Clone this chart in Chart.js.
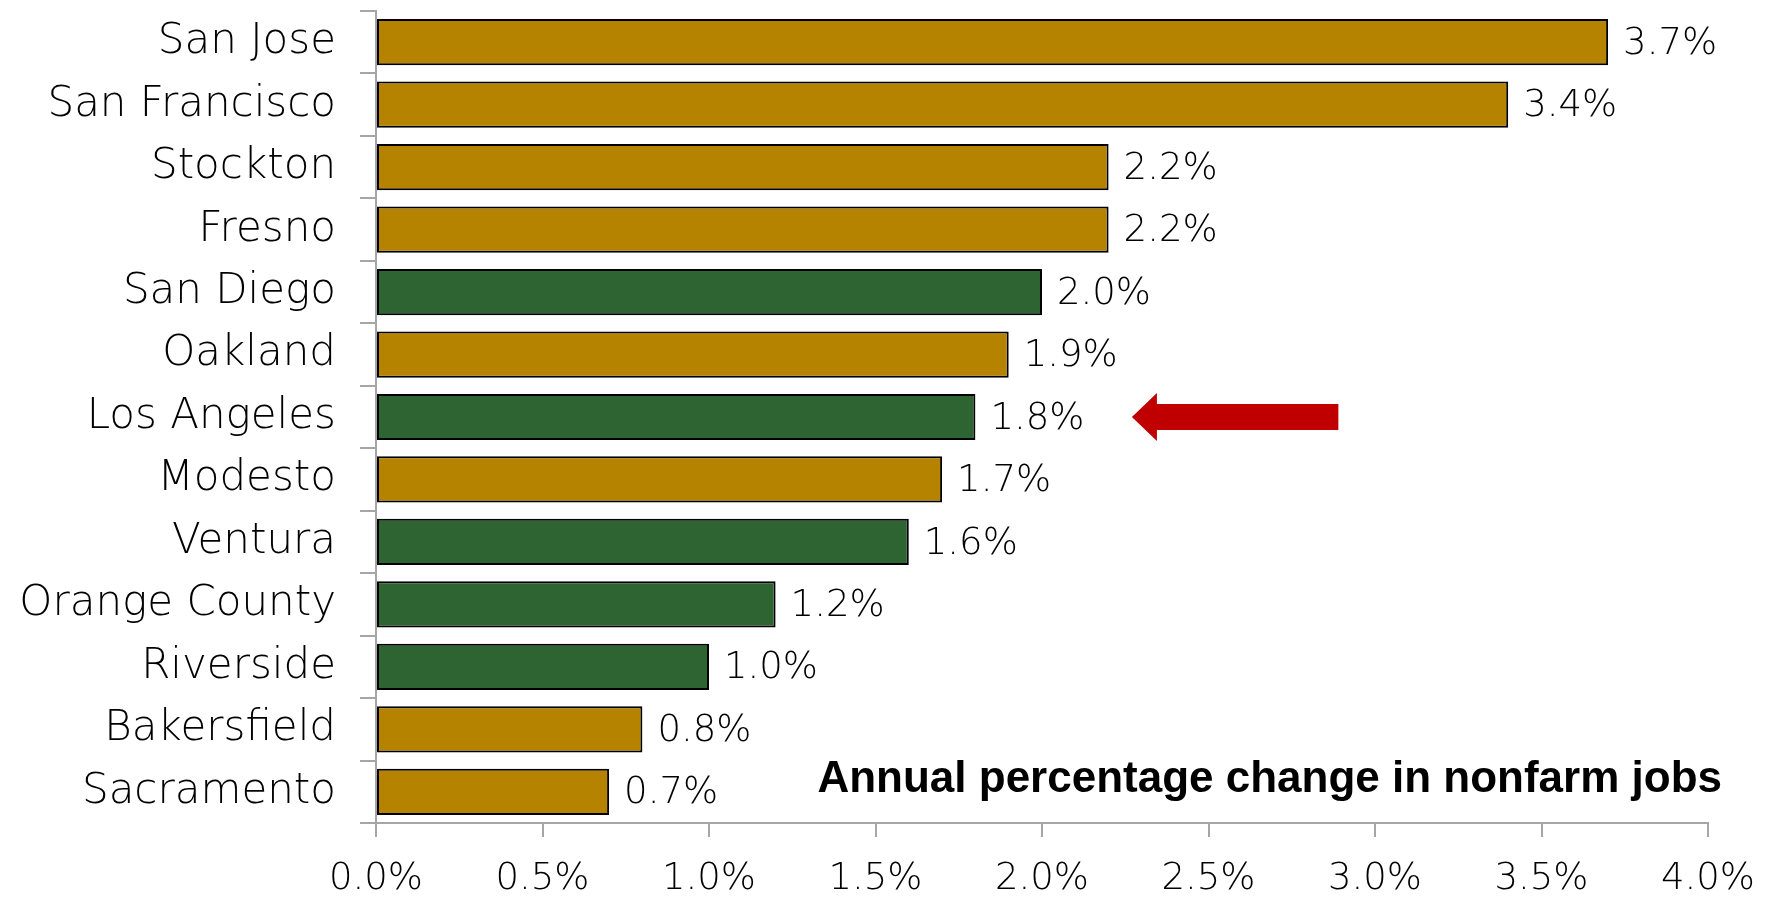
<!DOCTYPE html>
<html>
<head>
<meta charset="utf-8">
<script src="https://cdn.jsdelivr.net/npm/chart.js@4.4.0/dist/chart.umd.min.js"></script>
<style>
  html, body { margin: 0; padding: 0; background: #fff; }
  #wrap { width: 1765px; height: 898px; }
</style>
</head>
<body>
<div id="wrap"><canvas id="jobs_chart"></canvas></div>
<script>
// metro areas, top to bottom
const cities = ['San Jose', 'San Francisco', 'Stockton', 'Fresno', 'San Diego', 'Oakland',
  'Los Angeles', 'Modesto', 'Ventura', 'Orange County', 'Riverside', 'Bakersfield', 'Sacramento']
// annual % change in nonfarm jobs
const jobGrowth = [3.7, 3.4, 2.2, 2.2, 2.0, 1.9, 1.8, 1.7, 1.6, 1.2, 1.0, 0.8, 0.7]
// southern california metros are drawn green
const southern = ['San Diego', 'Los Angeles', 'Ventura', 'Orange County', 'Riverside']
const xTicks = [0, 0.5, 1.0, 1.5, 2.0, 2.5, 3.0, 3.5, 4.0]
const noteText = 'Annual percentage change in nonfarm jobs'
// arrow pointing at LA
const arrowCity = 'Los Angeles'
const arrowTip = 2.27
const arrowTail = 2.89

const GOLD = '#B58300'
const GREEN = '#2E6332'
const AXIS = '#A6A6A6'
const LABEL_FONT = '"DejaVu Sans", sans-serif'

let barColors = cities.map(function (c) {
	return southern.indexOf(c) >= 0 ? GREEN : GOLD
})

// value labels, arrow and note
const extras = {
	id: 'extras',
	afterDatasetsDraw: function (chart) {
		let ctx = chart.ctx
		let xs = chart.scales.x
		let ys = chart.scales.y
		let meta = chart.getDatasetMeta(0)

		ctx.save()
		ctx.fillStyle = '#000'
		ctx.font = '200 37px ' + LABEL_FONT
		ctx.textAlign = 'left'
		ctx.textBaseline = 'middle'
		meta.data.forEach(function (bar, i) {
			ctx.fillText(jobGrowth[i].toFixed(1) + '%', bar.x + 15, bar.y + 2)
		})

		// red arrow
		let ay = ys.getPixelForValue(cities.indexOf(arrowCity))
		let tipX = xs.getPixelForValue(arrowTip)
		let tailX = xs.getPixelForValue(arrowTail)
		let headLen = 25, shaft = 13, head = 24
		ctx.fillStyle = '#C00000'
		ctx.beginPath()
		ctx.moveTo(tipX, ay)
		ctx.lineTo(tipX + headLen, ay - head)
		ctx.lineTo(tipX + headLen, ay - shaft)
		ctx.lineTo(tailX, ay - shaft)
		ctx.lineTo(tailX, ay + shaft)
		ctx.lineTo(tipX + headLen, ay + shaft)
		ctx.lineTo(tipX + headLen, ay + head)
		ctx.closePath()
		ctx.fill()

		// note
		ctx.fillStyle = '#000'
		ctx.font = 'bold 44px "Liberation Sans", Arial, sans-serif'
		ctx.textAlign = 'right'
		ctx.fillText(noteText, chart.chartArea.right + 14, chart.chartArea.bottom - 43)
		ctx.restore()
	},
}

var ctx = document.getElementById('jobs_chart').getContext('2d')
// eslint-disable-next-line no-undef
var jobsChart = new Chart(ctx, {
	type: 'bar',
	data: {
		labels: cities,
		datasets: [{
			data: jobGrowth,
			backgroundColor: barColors,
			borderColor: '#000',
			borderWidth: 2,
			borderSkipped: false,
			barPercentage: 0.74,
			categoryPercentage: 1.0,
		}],
	},
	options: {
		indexAxis: 'y',
		responsive: true,
		maintainAspectRatio: false,
		animation: false,
		events: [],
		layout: { padding: { top: 11, right: 57, left: 0, bottom: 0 } },
		plugins: {
			legend: { display: false },
			tooltip: { enabled: false },
		},
		scales: {
			x: {
				min: 0,
				max: 4,
				afterBuildTicks: function (scale) {
					scale.ticks = xTicks.map(function (v) { return { value: v } })
				},
				afterFit: function (scale) {
					scale.height = 75
					scale.paddingRight = 0
				},
				grid: {
					drawOnChartArea: false,
					drawTicks: true,
					tickLength: 14,
					color: AXIS,
					lineWidth: 2,
				},
				border: { color: AXIS, width: 2 },
				ticks: {
					color: '#000',
					padding: 20,
					maxRotation: 0,
					font: { family: LABEL_FONT, size: 37, weight: 200 },
					callback: function (v) { return Number(v).toFixed(1) + '%' },
				},
			},
			y: {
				afterFit: function (scale) {
					scale.width = 376
					scale.paddingTop = 0
					scale.paddingBottom = 0
				},
				grid: {
					offset: true,
					drawOnChartArea: false,
					drawTicks: true,
					tickLength: 16,
					color: AXIS,
					lineWidth: 2,
				},
				border: { color: AXIS, width: 2 },
				ticks: {
					color: '#000',
					padding: 24,
					font: { family: LABEL_FONT, size: 42, weight: 200 },
				},
			},
		},
	},
	plugins: [extras],
})
</script>
</body>
</html>
